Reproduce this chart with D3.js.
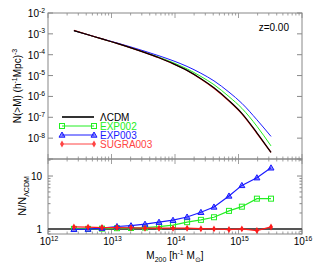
<!DOCTYPE html>
<html><head><meta charset="utf-8">
<script src="https://cdn.jsdelivr.net/npm/d3@7"></script>
<style>body{margin:0;background:#fff}svg{display:block}text{font-family:"Liberation Sans",Arial,sans-serif;fill:#000}</style>
</head><body><svg id="c" width="319" height="266"></svg>
<script>
// Mass bins (h^-1 Msun)
const mass = [2.56e12,4.27e12,7.08e12,1.22e13,2.03e13,3.37e13,5.60e13,9.31e13,1.55e14,2.56e14,4.11e14,7.08e14,1.13e15,1.95e15,3.25e15];
// Cumulative mass functions N(>M)
const nLCDM  = [1.42e-3,9.05e-4,5.70e-4,3.51e-4,2.14e-4,1.26e-4,7.11e-5,3.75e-5,1.77e-5,7.03e-6,2.58e-6,6.30e-7,1.55e-7,1.81e-8,2.07e-9];
const nEXP002= [1.42e-3,9.05e-4,5.70e-4,3.51e-4,2.14e-4,1.30e-4,7.59e-5,4.19e-5,2.09e-5,9.05e-6,3.67e-6,9.78e-7,2.70e-7,3.71e-8,4.24e-9];
const nEXP003= [1.42e-3,9.05e-4,5.77e-4,3.67e-4,2.34e-4,1.46e-4,8.85e-5,5.16e-5,2.75e-5,1.29e-5,5.57e-6,1.61e-6,4.68e-7,7.59e-8,1.21e-8];
const nSUGRA = [1.46e-3,9.05e-4,5.70e-4,3.51e-4,2.14e-4,1.26e-4,7.11e-5,3.71e-5,1.75e-5,6.87e-6,2.49e-6,6.03e-7,1.47e-7,1.71e-8,2.07e-9];
// Ratios N/N_LCDM
const rEXP002= [1.00,1.00,1.01,1.03,1.04,1.06,1.10,1.18,1.34,1.48,1.66,2.19,2.63,3.73,3.73];
const rEXP003= [0.98,0.99,1.03,1.11,1.15,1.23,1.34,1.46,1.68,2.06,2.60,4.20,6.65,9.30,14.3];
const rSUGRA = [1.09,1.08,1.06,1.06,1.05,1.03,1.03,1.03,1.03,1.01,1.00,0.97,1.00,0.93,1.09];
const seriesNames = ["\u039BCDM","EXP002","EXP003","SUGRA003"];
const xTickExp = [12,13,14,15,16];
const yTopTickExp = [-2,-3,-4,-5,-6,-7,-8];
const yBotTicks = [1,10];
const zLabel = "z=0.00";

const svg = d3.select("#c");
const L=48,R=302,T=13,M=159,B=234;
const x = d3.scaleLog().domain([1e12,1e16]).range([L,R]);
const yT = d3.scaleLog().domain([1e-9,1e-2]).range([M,T]);
const yB = d3.scaleLog().domain([0.8,21]).range([B,M]);
const frame="#888";
const cBlack="#000", cGreen="#22ee22", cBlue="#1a1aff", cRed="#ff1a1a";

const xMinor=[]; for(let e=12;e<16;e++) for(let k=1;k<10;k++) xMinor.push(k*Math.pow(10,e)); xMinor.push(1e16);
function xTicks(y0,dir){
  xMinor.forEach(v=>{const major=Math.abs(Math.log10(v)-Math.round(Math.log10(v)))<1e-9;
    svg.append("line").attr("x1",x(v)).attr("x2",x(v)).attr("y1",y0).attr("y2",y0+dir*(major?5:2.5)).attr("stroke",frame).attr("stroke-width",0.8);});
}
[[T,M],[M,B]].forEach(([a,b])=>svg.append("rect").attr("x",L).attr("y",a).attr("width",R-L).attr("height",b-a).attr("fill","none").attr("stroke",frame).attr("stroke-width",1));
xTicks(T,1); xTicks(M,-1); xTicks(M,1); xTicks(B,-1);
for(let e=-9;e<=-2;e++){const y=yT(Math.pow(10,e));
  svg.append("line").attr("x1",L).attr("x2",L+5).attr("y1",y).attr("y2",y).attr("stroke",frame);
  svg.append("line").attr("x1",R).attr("x2",R-5).attr("y1",y).attr("y2",y).attr("stroke",frame);}
const yBMinor=[0.8,0.9,1,2,3,4,5,6,7,8,9,10,20];
yBMinor.forEach(v=>{const major=(v===1||v===10);const y=yB(v);
  svg.append("line").attr("x1",L).attr("x2",L+(major?5:2.5)).attr("y1",y).attr("y2",y).attr("stroke",frame);
  svg.append("line").attr("x1",R).attr("x2",R-(major?5:2.5)).attr("y1",y).attr("y2",y).attr("stroke",frame);});

function powLabel(xp,yp,base,sup,anchor,fs){
  const t=svg.append("text").attr("x",xp).attr("y",yp).attr("font-size",fs).attr("text-anchor",anchor);
  t.append("tspan").text(base);
  t.append("tspan").attr("dy",-fs*0.45).attr("font-size",fs*0.68).text(sup);
  return t;
}
yTopTickExp.forEach(e=>powLabel(L-3,yT(Math.pow(10,e))+4,"10",String(e),"end",10));
xTickExp.forEach(e=>powLabel(x(Math.pow(10,e))+1,245,"10",String(e),"middle",10));
yBotTicks.forEach(v=>svg.append("text").attr("x",L-6).attr("y",yB(v)+4).attr("font-size",10).attr("text-anchor","end").text(String(v)));

const lineS=(ys,sc)=>d3.line().curve(d3.curveMonotoneX).x((d,i)=>x(mass[i])).y(d=>sc(d))(ys);
const line=(ys,sc)=>d3.line().x((d,i)=>x(mass[i])).y(d=>sc(d))(ys);
[[nEXP002,cGreen,1],[nEXP003,cBlue,1],[nSUGRA,cRed,1.2],[nLCDM,cBlack,1.2]].forEach(([d,c,w])=>
  svg.append("path").attr("d",lineS(d,yT)).attr("fill","none").attr("stroke",c).attr("stroke-width",w));

svg.append("line").attr("x1",L).attr("x2",R).attr("y1",yB(1)).attr("y2",yB(1)).attr("stroke","#555").attr("stroke-width",2);
function marker(g,type,cx,cy,c){
  if(type==="sq") g.append("rect").attr("x",cx-2.5).attr("y",cy-2.5).attr("width",5).attr("height",5).attr("fill","none").attr("stroke",c).attr("stroke-width",1);
  else if(type==="tri") g.append("path").attr("d",`M${cx},${cy-3}L${cx+3},${cy+2.2}L${cx-3},${cy+2.2}Z`).attr("fill",c).attr("fill-opacity",0.5).attr("stroke",c).attr("stroke-width",1);
  else g.append("path").attr("d",d3.symbol(d3.symbolDiamond,14)()).attr("transform",`translate(${cx},${cy})`).attr("fill",c);
}
[[rEXP002,cGreen,"sq"],[rEXP003,cBlue,"tri"],[rSUGRA,cRed,"dia"]].forEach(([d,c,t])=>{
  svg.append("path").attr("d",line(d,yB)).attr("fill","none").attr("stroke",c).attr("stroke-width",1.2);
  const g=svg.append("g");
  d.forEach((v,i)=>marker(g,t,x(mass[i]),yB(v),c));
});

const legC=["#333",cGreen,cBlue,"#ff4444"], legM=[null,"sq","tri","dia"];
seriesNames.forEach((n,i)=>{const y=117+i*9;
  svg.append("line").attr("x1",62).attr("x2",94).attr("y1",y).attr("y2",y).attr("stroke",legC[i]).attr("stroke-width",i===0?2:1);
  if(legM[i]){marker(svg,legM[i],62,y,legC[i]);marker(svg,legM[i],94,y,legC[i]);}
  svg.append("text").attr("x",100).attr("y",y+3.7).attr("font-size",10).style("fill",i===0?"#000":legC[i]).text(n);
});
svg.append("text").attr("x",289).attr("y",31).attr("font-size",10).attr("text-anchor","end").text(zLabel);

const yt=svg.append("text").attr("transform",`translate(21,86) rotate(-90)`).attr("text-anchor","middle").attr("font-size",10);
yt.append("tspan").text("N(>M) (h");
yt.append("tspan").attr("dy",-4).attr("font-size",7).text("-1");
yt.append("tspan").attr("dy",4).text("Mpc)");
yt.append("tspan").attr("dy",-4).attr("font-size",7).text("-3");
const yb=svg.append("text").attr("transform",`translate(26,196) rotate(-90)`).attr("text-anchor","middle").attr("font-size",11);
yb.append("tspan").text("N/N");
yb.append("tspan").attr("dy",3).attr("font-size",7).text("\u039BCDM");
const xt=svg.append("text").attr("x",175).attr("y",259).attr("text-anchor","middle").attr("font-size",10);
xt.append("tspan").text("M");
xt.append("tspan").attr("dy",3).attr("font-size",7).text("200");
xt.append("tspan").attr("dy",-3).text(" [h");
xt.append("tspan").attr("dy",-4).attr("font-size",7).text("-1");
xt.append("tspan").attr("dy",4).text(" M");
xt.append("tspan").attr("dy",3).attr("font-size",7).text("\u2299");
xt.append("tspan").attr("dy",-3).text("]");
</script></body></html>
